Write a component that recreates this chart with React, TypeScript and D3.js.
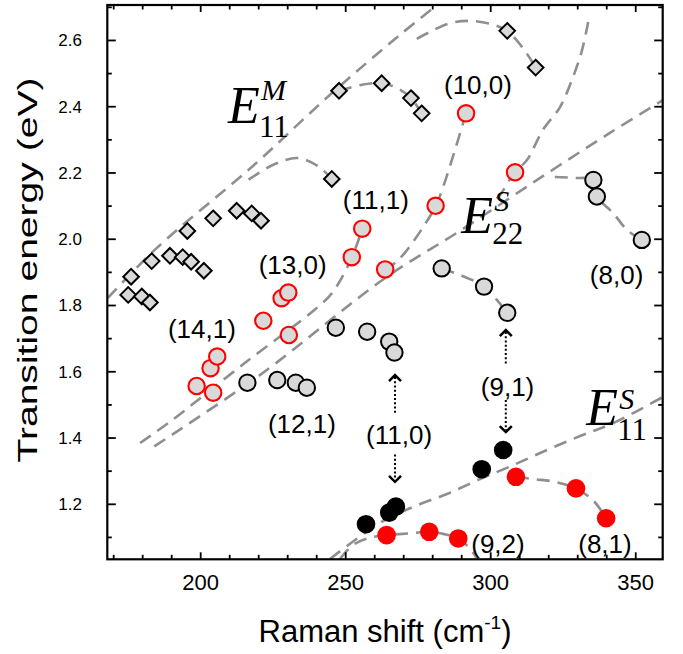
import React from "react";
import * as d3 from "d3";

// ---------- data ----------
const diamondX = [175.0, 176.0, 179.7, 182.5, 183.1, 189.4, 193.8, 196.7, 201.1, 195.4, 204.3, 212.4, 217.6, 220.8, 245.2, 247.7, 262.4, 272.5, 276.2, 305.7, 315.5];
const diamondY = [1.832, 1.887, 1.827, 1.809, 1.934, 1.950, 1.946, 1.932, 1.905, 2.025, 2.063, 2.086, 2.078, 2.056, 2.182, 2.448, 2.471, 2.426, 2.380, 2.629, 2.518];

const redOpenX = [291.5, 308.4, 281.0, 255.7, 252.1, 263.6, 227.9, 230.2, 221.6, 230.4, 198.6, 204.3, 203.4, 205.7];
const redOpenY = [2.380, 2.202, 2.101, 2.032, 1.946, 1.909, 1.822, 1.839, 1.754, 1.711, 1.557, 1.537, 1.611, 1.646];

const grayX = [246.6, 257.4, 265.0, 266.8, 216.1, 226.4, 232.8, 236.6, 283.1, 297.7, 305.7, 335.4, 336.6, 352.1];
const grayY = [1.733, 1.721, 1.691, 1.658, 1.567, 1.575, 1.567, 1.552, 1.912, 1.857, 1.778, 2.179, 2.129, 1.998];

const blackX = [257.0, 265.0, 267.3, 296.9, 304.3];
const blackY = [1.140, 1.175, 1.193, 1.306, 1.364];

const redFillX = [264.1, 278.8, 288.8, 308.7, 329.4, 339.8];
const redFillY = [1.107, 1.117, 1.097, 1.283, 1.248, 1.158];

// dashed guide curves (x in cm^-1, y in eV)
const guideE11M = [[168.0, 1.823], [184.9, 1.974], [218.0, 2.221], [244.6, 2.436], [268.7, 2.617], [281.5, 2.707]];
const guideHumpLow = [[216.5, 2.180], [225.6, 2.227], [233.5, 2.245], [240.4, 2.221], [245.2, 2.182]];
const guideUpperA = [[247.7, 2.448], [255, 2.465], [262.4, 2.471], [268, 2.455], [272.5, 2.426], [276.2, 2.380]];
const guideUpperB = [[274.5, 2.605], [285.3, 2.650], [292.2, 2.659], [299.8, 2.650], [305.6, 2.629], [311.1, 2.577], [315.6, 2.517]];
const guide100 = [[291.5, 2.381], [287.7, 2.270], [283.6, 2.158], [281.1, 2.101], [276.7, 2.037], [270.4, 1.959], [266.5, 1.925], [262.5, 1.897]];
const guideSteep = [[333.6, 2.656], [331.5, 2.571], [328.4, 2.490], [323.9, 2.399], [318.0, 2.330], [312.5, 2.239], [308.4, 2.203], [303.2, 2.134], [299.5, 2.100]];
const guideE22a = [[184.0, 1.375], [220.4, 1.590], [263.6, 1.883], [288.8, 2.022], [316.0, 2.179], [341.1, 2.321], [359.4, 2.420]];
const guideE22b = [[179.1, 1.385], [189.4, 1.449], [215.3, 1.627], [240.1, 1.793], [245.6, 1.841], [252.2, 1.947], [255.6, 2.029]];
const guide80 = [[322.1, 2.188], [329.0, 2.185], [335.4, 2.179], [336.6, 2.129], [342.2, 2.079], [347.0, 2.028], [352.1, 1.998]];
const guide91 = [[283.1, 1.912], [290.0, 1.890], [297.7, 1.857], [305.7, 1.778]];
const guideE11S = [[244.6, 1.035], [261.8, 1.144], [273.2, 1.192], [284.9, 1.231], [296.3, 1.276], [307.7, 1.318], [319.4, 1.364], [330.8, 1.406], [342.2, 1.445], [359.4, 1.524]];
const guide92 = [[248.0, 1.035], [252.5, 1.077], [258.0, 1.098], [264.1, 1.107], [272, 1.112], [278.8, 1.117], [284, 1.110], [288.8, 1.097], [292.5, 1.070], [295.4, 1.035]];
const guide81 = [[308.7, 1.283], [315, 1.276], [322, 1.268], [329.4, 1.248], [335.5, 1.210], [339.8, 1.158]];

const guides = [guideE11M, guideHumpLow, guideUpperA, guideUpperB, guide100, guideSteep, guideE22a, guideE22b, guide80, guide91, guideE11S, guide92, guide81];

const chiralLabels = ["(10,0)", "(11,1)", "(13,0)", "(14,1)", "(12,1)", "(11,0)", "(9,1)", "(8,0)", "(9,2)", "(8,1)"];
const chiralLabelX = [295.6, 260.4, 231.7, 200.4, 234.9, 268.4, 305.8, 343.4, 302.5, 339.4];
const chiralLabelY = [2.466, 2.119, 1.922, 1.729, 1.443, 1.410, 1.553, 1.891, 1.080, 1.079];

// arrows: x, top tip, label-gap top, label-gap bottom, bottom tip
const arrowX = [267.0, 305.2];
const arrowTop = [1.590, 1.726];
const arrowBottom = [1.268, 1.418];
const arrowGapTop = [1.470, 1.620];
const arrowGapBottom = [1.350, 1.515];

const eLabelSup = ["M", "S", "S"];
const eLabelSub = ["11", "22", "11"];
const eLabelX = [209.4, 289.8, 332.9];
const eLabelY = [2.351, 2.019, 1.439];
const eSupDy = [-23, -22, -16];
const eSubDy = [14, 11, 15];

const xMajor = [200, 250, 300, 350];
const yMajor = [1.2, 1.4, 1.6, 1.8, 2.0, 2.2, 2.4, 2.6];

// ---------- layout ----------
const W = 683, H = 654;
const L = 107.3, R = 662.7, T = 5, B = 559.3;

export default function App() {
  const x = d3.scaleLinear().domain([167.8, 359.3]).range([L, R]);
  const y = d3.scaleLinear().domain([1.034, 2.707]).range([B, T]);
  const line = d3.line<number[]>().x(d => x(d[0])).y(d => y(d[1])).curve(d3.curveCatmullRom.alpha(0.5));

  const xMinor = d3.range(170, 360, 10);
  const yMinor = d3.range(11, 28).map(v => v / 10);

  const font = "'Liberation Sans', Arial, Helvetica, sans-serif";
  const serif = "'Liberation Serif', 'Times New Roman', Times, serif";
  const dashColor = "#8f8f8f";
  const fillGray = "#d9d9d9";

  const diamond = (cx: number, cy: number, s: number) => `M${cx},${cy - s}L${cx + s},${cy}L${cx},${cy + s}L${cx - s},${cy}Z`;

  return (
    <svg width={W} height={H} style={{ position: "absolute", left: 0, top: 0, background: "#fff" }} fontFamily={font}>
      <defs>
        <clipPath id="plotclip"><rect x={L} y={T} width={R - L} height={B - T} /></clipPath>
      </defs>

      {/* guide curves */}
      <g clipPath="url(#plotclip)" fill="none" stroke={dashColor} strokeWidth={2.6} strokeDasharray="13 8">
        {guides.map((g, i) => <path key={i} d={line(g) || ""} />)}
      </g>

      {/* arrows */}
      <g stroke="#000" fill="none">
        {arrowX.map((ax, i) => {
          const px = x(ax);
          const t = y(arrowTop[i]), b = y(arrowBottom[i]);
          const g1 = y(arrowGapTop[i]), g2 = y(arrowGapBottom[i]);
          return (
            <g key={i}>
              <line x1={px} x2={px} y1={t + 2} y2={g1} strokeWidth={2} strokeDasharray="2 2.2" />
              <line x1={px} x2={px} y1={g2} y2={b - 2} strokeWidth={2} strokeDasharray="2 2.2" />
              <path d={`M${px - 6},${t + 6}L${px},${t}L${px + 6},${t + 6}`} strokeWidth={2.5} />
              <path d={`M${px - 6},${b - 6}L${px},${b}L${px + 6},${b - 6}`} strokeWidth={2.5} />
            </g>
          );
        })}
      </g>

      {/* markers */}
      <g stroke="#000" strokeWidth={2} fill={fillGray}>
        {diamondX.map((v, i) => <path key={i} d={diamond(x(v), y(diamondY[i]), 7.8)} />)}
      </g>
      <g stroke="#000" strokeWidth={2} fill={fillGray}>
        {grayX.map((v, i) => <circle key={i} cx={x(v)} cy={y(grayY[i])} r={8.2} />)}
      </g>
      <g stroke="#ff0000" strokeWidth={2.1} fill={fillGray}>
        {redOpenX.map((v, i) => <circle key={i} cx={x(v)} cy={y(redOpenY[i])} r={8.2} />)}
      </g>
      <g fill="#000">
        {blackX.map((v, i) => <circle key={i} cx={x(v)} cy={y(blackY[i])} r={9.3} />)}
      </g>
      <g fill="#ff0000">
        {redFillX.map((v, i) => <circle key={i} cx={x(v)} cy={y(redFillY[i])} r={9.3} />)}
      </g>

      {/* chirality labels */}
      <g fontSize={26} textAnchor="middle" fill="#000">
        {chiralLabels.map((s, i) => (
          <text key={i} x={x(chiralLabelX[i])} y={y(chiralLabelY[i])} dy="0.35em">{s}</text>
        ))}
      </g>

      {/* E labels */}
      <g fontFamily={serif} fill="#000">
        {eLabelX.map((v, i) => {
          const px = x(v), py = y(eLabelY[i]);
          return (
            <g key={i}>
              <text x={px} y={py} fontSize={52} fontStyle="italic">E</text>
              <text x={px + 33} y={py + eSupDy[i]} fontSize={30} fontStyle="italic">{eLabelSup[i]}</text>
              <text x={px + 31} y={py + eSubDy[i]} fontSize={31}>{eLabelSub[i]}</text>
            </g>
          );
        })}
      </g>

      {/* frame & ticks */}
      <rect x={L} y={T} width={R - L} height={B - T} fill="none" stroke="#000" strokeWidth={2.2} />
      <g stroke="#000" strokeWidth={1.8}>
        {xMinor.map(v => {
          const major = xMajor.includes(v);
          const len = major ? 7 : 4.5;
          return (
            <g key={v}>
              <line x1={x(v)} x2={x(v)} y1={B} y2={B - len} />
              <line x1={x(v)} x2={x(v)} y1={T} y2={T + len} />
            </g>
          );
        })}
        {yMinor.map(v => {
          const major = yMajor.some(m => Math.abs(m - v) < 1e-6);
          const len = major ? 8.5 : 4.5;
          return (
            <g key={v}>
              <line x1={L} x2={L + len} y1={y(v)} y2={y(v)} />
              <line x1={R} x2={R - len} y1={y(v)} y2={y(v)} />
            </g>
          );
        })}
      </g>

      {/* tick labels */}
      <g fontSize={22} textAnchor="middle">
        {xMajor.map(v => <text key={v} x={x(v)} y={590}>{v}</text>)}
      </g>
      <g fontSize={17} textAnchor="end">
        {yMajor.map(v => <text key={v} x={82} y={y(v)} dy="0.35em">{v.toFixed(1)}</text>)}
      </g>

      {/* axis titles */}
      <text x={(L + R) / 2} y={642} fontSize={31} textAnchor="middle">
        Raman shift (cm<tspan fontSize={19} dy={-13}>-1</tspan><tspan dy={13}>)</tspan>
      </text>
      <text transform={`translate(37,270) rotate(-90)`} fontSize={28} textAnchor="middle"
        textLength={385} lengthAdjust="spacingAndGlyphs">
        Transition energy (eV)
      </text>
    </svg>
  );
}
